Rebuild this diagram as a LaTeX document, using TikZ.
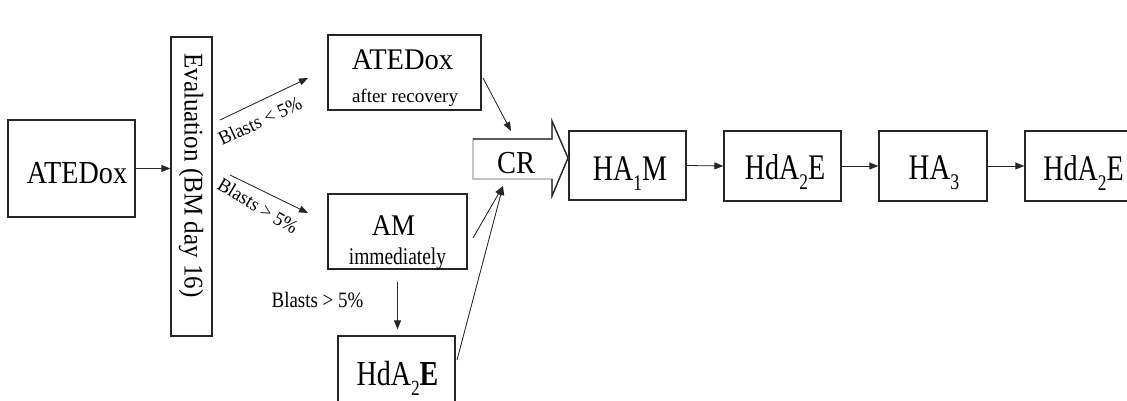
\documentclass[tikz,border=0pt]{standalone}
\usepackage{fontspec}
\setmainfont{Liberation Serif}
\usepackage{graphicx}
\usetikzlibrary{arrows.meta}
\newcommand\ctext[3]{\scalebox{#2}[1]{\fontsize{#1}{#1}\selectfont #3}}
\newcommand\sbs[1]{\raisebox{-0.3em}{\scalebox{0.62}{#1}}}
\begin{document}
\begin{tikzpicture}[x=1pt,y=-1pt,
  box/.style={draw=black!85, line width=1.3pt, inner sep=0pt, rectangle},
  lbl/.style={inner sep=0pt, anchor=base},
  arr/.style={-{Triangle[length=9pt,width=7pt]}, line width=0.8pt, draw=black!85, fill=black},
]
\useasboundingbox (0,0) rectangle (1127,401);

% boxes
\node[box, minimum width=127pt, minimum height=97pt] (atedox) at (71.5,168.5) {};
\node[box, minimum width=41pt, minimum height=299pt] (eval) at (191.5,186.5) {};
\node[box, minimum width=153pt, minimum height=75pt] (rec) at (404.5,72.5) {};
\node[box, minimum width=139pt, minimum height=75pt] (am) at (397.5,231.5) {};
\node[box, minimum width=117pt, minimum height=78pt] (hdlow) at (396.5,375) {};
\node[box, minimum width=117pt, minimum height=69pt] (ha1m) at (627.5,165.5) {};
\node[box, minimum width=117pt, minimum height=70pt] (hda) at (782.5,166) {};
\node[box, minimum width=108pt, minimum height=70pt] (ha3) at (933,166) {};
\node[box, minimum width=117pt, minimum height=70pt] (hdb) at (1083.5,166) {};

% CR block arrow
\draw[gray!70, line width=1.3pt, line join=miter]
  (473,139) -- (552,139) -- (552,121) -- (568,158) -- (552,196) -- (552,179) -- (473,179) -- cycle;
\draw[black!85, line width=1.3pt, line join=miter]
  (473,139) -- (552,139) -- (552,121) -- (568,158) -- (552,196) -- (552,179);

% texts
\node[lbl] (t-atedox) at (77,183) {\ctext{32}{0.88}{ATEDox}};
\node[inner sep=0pt, rotate=-90] (t-eval) at (191,175.5) {\ctext{27}{0.93}{Evaluation (BM day 16)}};
\node[lbl] (t-rec1) at (402.5,70) {\ctext{30}{0.95}{ATEDox}};
\node[lbl] (t-rec2) at (405,103) {\ctext{19}{1}{after recovery}};
\node[lbl] (t-am1) at (393.5,235) {\ctext{30}{0.9}{AM}};
\node[lbl] (t-am2) at (397.5,264) {\ctext{24}{0.81}{immediately}};
\node[lbl] (cr) at (516,173) {\ctext{32}{0.89}{CR}};
\node[lbl] (t-ha1m) at (630,180) {\ctext{36}{0.78}{HA\sbs{1}M}};
\node[lbl] (t-hda) at (785,179) {\ctext{36}{0.78}{HdA\sbs{2}E}};
\node[lbl] (t-ha3) at (934,179) {\ctext{36}{0.8}{HA\sbs{3}}};
\node[lbl] (t-hdb) at (1083.5,180) {\ctext{36}{0.78}{HdA\sbs{2}E}};
\node[lbl] (t-hdlow) at (397.5,385) {\ctext{35}{0.8}{HdA\sbs{2}\textbf{E}}};
\node[lbl] (t-bl3) at (317.5,307) {\ctext{22}{0.86}{Blasts > 5\%}};
\node[inner sep=0pt, rotate=25] (t-bl1) at (260,121) {\ctext{19.5}{0.95}{Blasts < 5\%}};
\node[inner sep=0pt, rotate=-31] (t-bl2) at (258,206) {\ctext{19.5}{0.95}{Blasts > 5\%}};

% free ends
\coordinate (b1s) at (220,120);
\coordinate (b1e) at (308,78);
\coordinate (b2s) at (230,175);
\coordinate (b2e) at (308,213);
\coordinate (crtop) at (511,131);
\coordinate (crbot) at (503,186);
\coordinate (recout) at (483,78);
\coordinate (amout) at (473,238);
\coordinate (hdout) at (457,360);

% connectors
\draw[arr] (atedox.east) -- (eval.west |- atedox.east);
\draw[arr] (b1s) -- (b1e);
\draw[arr] (b2s) -- (b2e);
\draw[arr] (recout) -- (crtop);
\draw[arr] (amout) -- (crbot);
\draw[arr] (hdout) -- (crbot);
\draw[arr, shorten <=12pt, shorten >=6pt] (am.south) -- (am.south |- hdlow.north);
\draw[arr] (ha1m.east) -- (hda.west);
\draw[arr] (hda.east) -- (ha3.west);
\draw[arr] (ha3.east) -- (hdb.west);
\end{tikzpicture}
\end{document}
